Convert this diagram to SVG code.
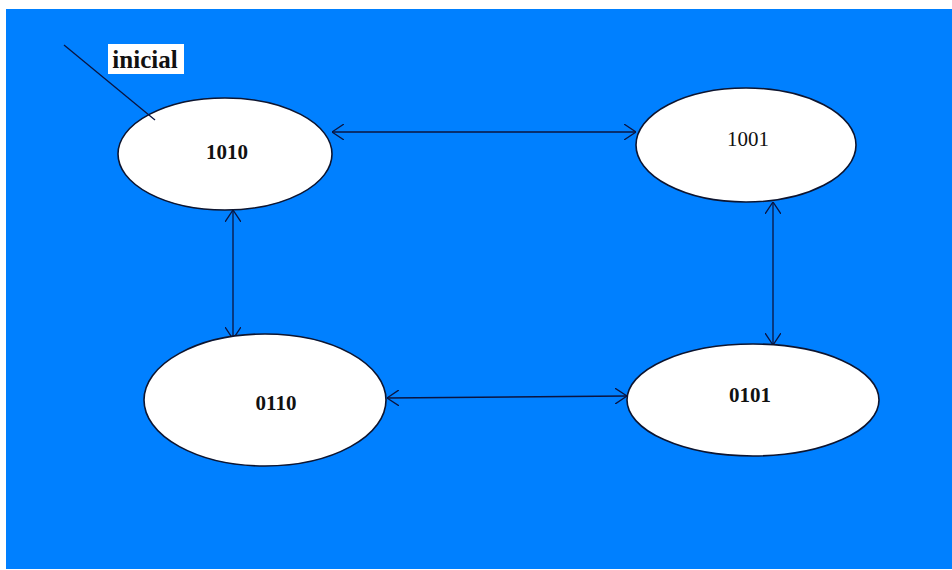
<svg xmlns="http://www.w3.org/2000/svg" width="952" height="570" viewBox="0 0 952 570">
<style>
.node ellipse{fill:#ffffff;stroke:#0d1530;stroke-width:1.6}
.lbl{font-family:"Liberation Serif","Times New Roman",serif;font-weight:bold;font-size:21px;fill:#111;text-anchor:middle}
.reg{font-weight:normal}
.init{font-family:"Liberation Serif","Times New Roman",serif;font-weight:bold;font-size:25px;fill:#111;text-anchor:middle}
.edge{stroke:#0a1440;stroke-width:1.3;fill:none;marker-start:url(#ah);marker-end:url(#ah)}
</style>
<defs>
<marker id="ah" viewBox="0 0 12 16" refX="12" refY="8" markerWidth="12" markerHeight="16" markerUnits="userSpaceOnUse" orient="auto-start-reverse">
<path d="M0,0 L12,8 L0,16" fill="none" stroke="#0a1440" stroke-width="1.3"/>
</marker>
</defs>
<rect x="0" y="0" width="952" height="570" fill="#ffffff"/>
<rect x="6" y="9" width="946" height="560" fill="#0080ff"/>
<g id="connectors">
<line class="edge" x1="332" y1="132" x2="636" y2="132"/>
<line class="edge" x1="233" y1="210" x2="233" y2="339"/>
<line class="edge" x1="773" y1="202" x2="773" y2="345"/>
<line class="edge" x1="387" y1="398" x2="627" y2="396"/>
</g>
<g id="n1010" class="node">
<ellipse cx="225" cy="154" rx="107" ry="56"/>
<text class="lbl" x="227" y="159">1010</text>
</g>
<g id="n1001" class="node">
<ellipse cx="746" cy="145" rx="110" ry="57"/>
<text class="lbl reg" x="748" y="146">1001</text>
</g>
<g id="n0110" class="node">
<ellipse cx="265" cy="400" rx="121" ry="66"/>
<text class="lbl" x="276" y="410">0110</text>
</g>
<g id="n0101" class="node">
<ellipse cx="753" cy="400" rx="126" ry="56"/>
<text class="lbl" x="750" y="402">0101</text>
</g>
<g id="start">
<line x1="64" y1="45" x2="155" y2="120" stroke="#0a1440" stroke-width="1.3"/>
<rect x="108" y="44" width="76" height="30" fill="#ffffff"/>
<text class="init" x="145" y="68">inicial</text>
</g>
</svg>
